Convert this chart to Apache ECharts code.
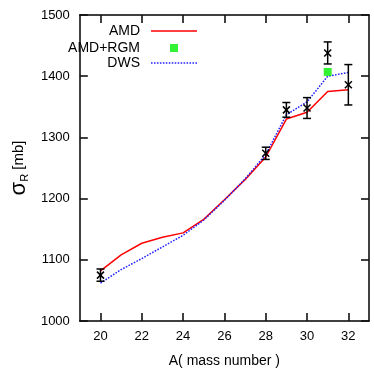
<!DOCTYPE html>
<html>
<head>
<meta charset="utf-8">
<script src="https://cdn.jsdelivr.net/npm/echarts@6/dist/echarts.min.js"></script>
<style>html,body{margin:0;padding:0;background:#fff}#c{width:374px;height:377px}</style>
</head>
<body>
<div id="c"></div>
<script>
var massNumbers = [20,21,22,23,24,25,26,27,28,29,30,31,32];
var amd = [1082,1108,1127,1137,1144,1166,1198,1231,1268,1330,1341,1375,1378];
var dws = [1062,1084,1102,1121,1140,1165,1197,1232,1272,1337,1358,1400,1406];
var rgmA = [31];
var rgmSigma = [1407];
var expA = [20,28,29,30,31,32];
var expSigma = [1075,1274,1345,1348,1438,1386];
var expErr = [10,10,12,17,18,33];
var xTicks = [20,22,24,26,28,30,32];
var yTicks = [1000,1100,1200,1300,1400,1500];

var font = 'Liberation Sans';
var chart = echarts.init(document.getElementById('c'), null, {renderer:'canvas'});
var amdData = massNumbers.map(function(a,i){return [a, amd[i]];});
var dwsData = massNumbers.map(function(a,i){return [a, dws[i]];});
var rgmData = rgmA.map(function(a,i){return [a, rgmSigma[i]];});
var expData = expA.map(function(a,i){return [a, expSigma[i], expSigma[i]-expErr[i], expSigma[i]+expErr[i]];});

function solidPath(){ return 'path://M0,0h46v1.6h-46z'; }
function dotPath(){
  var p = 'path://';
  for (var i = 0; i < 16; i++) { p += 'M' + (i*3) + ',0h1.6v1.6h-1.6z'; }
  return p;
}
function legend(name, icon, top, right, iw, ih, pad){
  return {
    data:[{name:name, icon:icon}], orient:'vertical', top:top, right:right, align:'right',
    itemWidth:iw, itemHeight:ih, padding:0,
    textStyle:{fontFamily:font, fontSize:14, color:'#000', padding:[0,pad,0,0]}
  };
}
function tick(vals){
  var t = {show:true, inside:true, length:8, lineStyle:{color:'#111', width:1.6}};
  if (vals) t.customValues = vals;
  return t;
}
var line = {show:true, onZero:false, lineStyle:{color:'#000', width:1.5}};
chart.setOption({
  animation:false,
  backgroundColor:'#fff',
  grid:{left:64, right:5, top:15, bottom:56},
  legend:[
    legend('AMD', solidPath(), 24, 177, 46, 1.6, 6),
    legend('AMD+RGM', 'rect', 41, 196, 8, 8, 25),
    legend('DWS', dotPath(), 56, 177, 46, 1.6, 6)
  ],
  xAxis:[
    {type:'value', min:19, max:33, position:'bottom',
      name:'A( mass number )', nameLocation:'middle', nameGap:33,
      nameTextStyle:{fontFamily:font, fontSize:14, color:'#000'},
      axisLine:line, axisTick:tick(xTicks), splitLine:{show:false},
      axisLabel:{fontFamily:font, fontSize:13, color:'#000', margin:9, customValues:xTicks}},
    {type:'value', min:19, max:33, position:'top',
      axisLine:line, axisTick:tick(xTicks), splitLine:{show:false},
      axisLabel:{show:false, customValues:xTicks}}
  ],
  yAxis:[
    {type:'value', min:1000, max:1500, interval:100, position:'left',
      name:'{s|σ}{sub|R}{t| [mb]}', nameLocation:'middle', nameGap:47, nameRotate:90,
      nameTextStyle:{color:'#000', rich:{
        s:{fontFamily:font, fontSize:22, lineHeight:22, color:'#000'},
        sub:{fontFamily:font, fontSize:11, lineHeight:11, verticalAlign:'bottom', color:'#000'},
        t:{fontFamily:font, fontSize:15, lineHeight:22, color:'#000'}}},
      axisLine:line, axisTick:tick(yTicks), splitLine:{show:false},
      axisLabel:{fontFamily:font, fontSize:13, color:'#000', margin:10, customValues:yTicks,
        formatter:function(v){return String(v);}}},
    {type:'value', min:1000, max:1500, interval:100, position:'right',
      axisLine:line, axisTick:tick(yTicks), splitLine:{show:false},
      axisLabel:{show:false}}
  ],
  series:[
    {name:'AMD', type:'line', data:amdData, symbol:'none', color:'#ff0000',
      lineStyle:{color:'#ff0000', width:1.5}, z:3},
    {name:'DWS', type:'line', data:dwsData, symbol:'none', color:'#2222ff',
      lineStyle:{color:'#2222ff', width:1.5, type:[1.6,1.4]}, z:4},
    {name:'AMD+RGM', type:'scatter', data:rgmData, symbol:'rect', symbolSize:8,
      itemStyle:{color:'#00ee00'}, z:5},
    {name:'exp', type:'custom', data:expData, z:6,
      renderItem:function(params, api){
        var x = api.value(0), y = api.value(1);
        var c = api.coord([x,y]);
        var lo = api.coord([x, api.value(2)]);
        var hi = api.coord([x, api.value(3)]);
        var cw = 4, s = 3.5;
        var st = {stroke:'#000', lineWidth:1.5};
        return {type:'group', children:[
          {type:'line', shape:{x1:c[0], y1:lo[1], x2:c[0], y2:hi[1]}, style:st},
          {type:'line', shape:{x1:c[0]-cw, y1:lo[1], x2:c[0]+cw, y2:lo[1]}, style:st},
          {type:'line', shape:{x1:c[0]-cw, y1:hi[1], x2:c[0]+cw, y2:hi[1]}, style:st},
          {type:'line', shape:{x1:c[0]-s, y1:c[1]-s, x2:c[0]+s, y2:c[1]+s}, style:st},
          {type:'line', shape:{x1:c[0]-s, y1:c[1]+s, x2:c[0]+s, y2:c[1]-s}, style:st}
        ]};
      }}
  ]
});
</script>
</body>
</html>
